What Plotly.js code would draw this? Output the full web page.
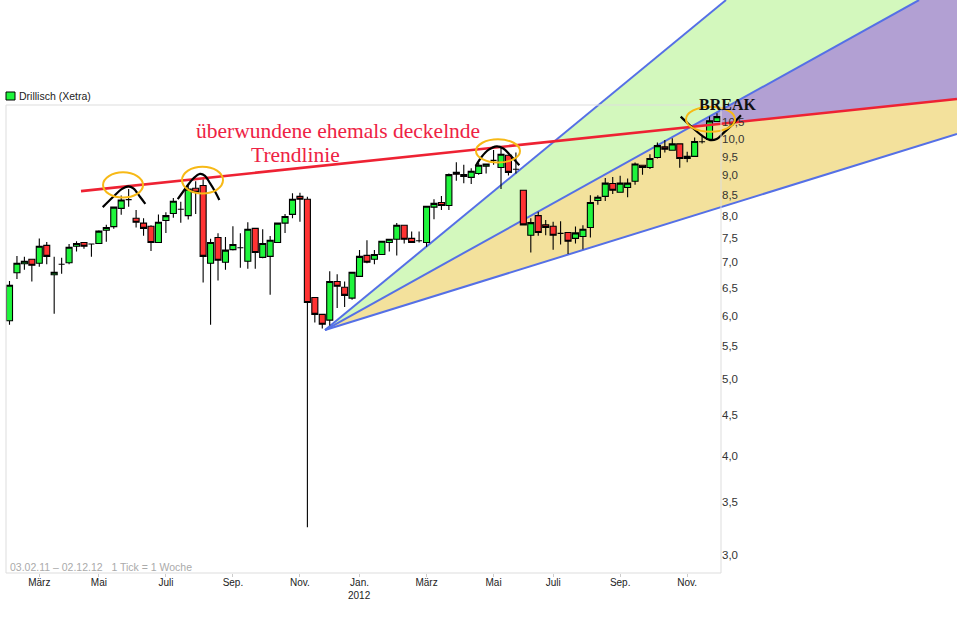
<!DOCTYPE html>
<html>
<head>
<meta charset="utf-8">
<script src="https://cdn.plot.ly/plotly-3.0.1.min.js"></script>
<style>body{margin:0;background:#fff}</style>
</head>
<body>
<div id="myChart" style="width:957px;height:629px"></div>
<script>
// weekly candles
const opens = [5.91,6.79,6.97,7.06,6.98,7.35,6.75,6.96,6.99,7.33,7.41,7.38,7.39,7.68,7.76,8.18,8.39,7.95,7.84,7.77,7.41,7.90,8.06,8.16,8.01,8.67,8.74,6.98,7.52,7.00,7.26,7.30,7.02,7.72,7.10,7.12,7.41,7.84,8.04,8.47,8.40,6.32,6.02,5.92,6.62,6.51,6.31,6.72,7.14,7.06,7.16,7.41,7.48,7.79,7.50,7.45,7.41,8.21,8.32,8.25,9.08,9.02,8.95,9.05,9.24,9.40,9.21,9.54,9.16,8.62,7.57,8.01,7.80,7.77,7.61,7.63,7.50,7.54,7.74,8.37,8.47,8.79,8.57,8.69,8.85,9.27,9.21,9.48,9.78,9.68,9.86,9.45,9.51,9.92,9.99,10.52];
const highs = [6.63,7.13,7.11,7.07,7.50,7.42,7.11,7.09,7.38,7.44,7.41,7.39,7.68,7.80,8.21,8.49,8.65,8.14,7.95,7.79,8.04,8.09,8.43,8.34,8.75,8.85,8.90,7.49,7.61,7.53,7.77,7.61,7.86,7.73,7.70,7.55,7.84,8.05,8.55,8.56,8.46,6.32,6.02,6.82,6.76,6.62,6.80,7.25,7.46,7.25,7.44,7.49,7.84,7.80,7.65,7.65,8.24,8.40,8.48,9.05,9.35,9.28,9.19,9.33,9.30,9.69,9.79,9.55,9.62,8.62,7.95,8.10,7.91,7.87,7.88,7.64,7.76,7.79,8.50,8.50,8.93,8.96,8.99,8.92,9.34,9.28,9.57,9.90,9.97,10.02,9.88,9.64,10.04,10.12,10.67,10.77];
const lows = [5.84,6.67,6.85,6.62,6.91,6.96,6.03,6.77,6.96,7.22,7.28,7.11,7.38,7.43,7.71,8.03,8.22,7.74,7.56,7.23,7.40,7.62,7.96,7.85,7.92,8.05,6.60,5.84,6.64,6.85,7.24,6.89,6.87,6.87,7.08,6.37,7.40,7.62,7.95,7.87,3.25,5.88,5.78,5.83,6.13,6.15,6.28,6.71,6.98,6.96,7.15,7.22,7.14,7.39,7.40,7.41,7.32,7.93,8.14,8.14,8.86,8.80,8.78,9.02,9.05,9.28,8.65,9.00,9.05,7.79,7.20,7.56,7.57,7.26,7.37,7.17,7.39,7.27,7.52,8.27,8.36,8.53,8.57,8.45,8.76,9.02,9.17,9.45,9.62,9.68,9.20,9.35,9.51,9.87,9.98,10.51];
const closes = [6.55,6.98,7.02,6.94,7.33,7.12,6.80,6.96,7.31,7.39,7.33,7.38,7.66,7.74,8.21,8.38,8.39,7.86,7.72,7.41,7.86,8.01,8.35,8.16,8.65,8.57,7.12,7.41,7.04,7.25,7.37,7.30,7.70,7.20,7.39,7.46,7.84,7.99,8.40,8.40,6.23,6.02,5.85,6.62,6.53,6.36,6.80,7.12,7.00,7.16,7.44,7.48,7.79,7.48,7.41,7.45,8.23,8.30,8.25,9.02,9.03,8.97,9.11,9.27,9.30,9.40,9.57,9.08,9.16,7.80,7.85,7.63,7.74,7.57,7.61,7.44,7.62,7.70,8.32,8.45,8.80,8.62,8.80,8.80,9.30,9.21,9.45,9.81,9.71,9.86,9.45,9.51,9.93,9.92,10.54,10.67];
const weeks = opens.map((_, i) => i);

const xTicks = [4,12,21,30,39,47,56,65,73,82,91];
const xLabels = ["März","Mai","Juli","Sep.","Nov.","Jan.","März","Mai","Juli","Sep.","Nov."];
const yTicks = [3,3.5,4,4.5,5,5.5,6,6.5,7,7.5,8,8.5,9,9.5,10,10.5];
const yLabels = ["3,0","3,5","4,0","4,5","5,0","5,5","6,0","6,5","7,0","7,5","8,0","8,5","9,0","9,5","10,0","10,5"];

// drawn-in stuff on top of the chart (week index / price)
const trendX = [9.60,127.23];
const trendY = [8.60,11.23];
const fan1X = [42.37,96.21];
const fan1Y = [5.753,14.95];
const fan2X = [42.37,122.13];
const fan2Y = [5.753,14.95];
const fan3X = [42.37,127.23];
const fan3Y = [5.753,10.15];
const greenX = [42.37,96.21,122.13];
const greenY = [5.753,14.95,14.95];
const tanX = [42.37,91.51,127.23,127.23];
const tanY = [5.753,10.35,11.23,10.15];
const purpleX = [91.51,122.13,127.23,127.23];
const purpleY = [10.35,14.95,14.95,11.23];

const arc1X = [12.52,13.94,15.06,15.95,16.63,17.52,18.24];
const arc1Y = [8.21,8.46,8.65,8.72,8.67,8.46,8.29];
const arc2X = [22.59,23.79,24.68,25.58,26.25,26.92,27.6,28.18];
const arc2Y = [8.40,8.71,8.92,9.04,8.99,8.80,8.59,8.38];
const arc3X = [62.6,63.41,64.3,65.42,66.31,67.21,68.46];
const arc3Y = [9.25,9.50,9.69,9.79,9.73,9.55,9.27];
const arc4X = [90.13,91.82,93.16,94.07,94.96,95.85,96.98,98.22];
const arc4Y = [10.67,10.31,10.07,9.97,10.0,10.17,10.41,10.71];

// x0,x1,y0,y1 of the orange rings
const ring1 = [12.56,17.93,9.08,8.44];
const ring2 = [23.16,28.67,9.23,8.54];
const ring3 = [62.64,68.55,9.99,9.34];
const ring4 = [90.84,97.42,10.98,10.21];

const W = 957, H = 629;
const px = (v) => v / W;
const py = (v) => 1 - v / H;

const polyPath = (xs, ys) =>
  xs.map((x, i) => (i === 0 ? "M" : "L") + x + "," + ys[i]).join(" ") + " Z";

const fillShape = (xs, ys, color) => ({
  type: "path", xref: "x", yref: "y", layer: "below",
  path: polyPath(xs, ys), fillcolor: color, line: { width: 0 },
});
const fanShape = (xs, ys) => ({
  type: "line", xref: "x", yref: "y", layer: "below",
  x0: xs[0], x1: xs[1], y0: ys[0], y1: ys[1],
  line: { color: "#5570E6", width: 2 },
});
const ringShape = (r) => ({
  type: "circle", xref: "x", yref: "y",
  x0: r[0], x1: r[1], y0: r[2], y1: r[3],
  line: { color: "#F7B916", width: 2 },
});
const arcTrace = (xs, ys) => ({
  x: xs, y: ys, type: "scatter", mode: "lines", hoverinfo: "skip",
  line: { color: "#000", width: 2.2, shape: "spline" },
});

const candles = {
  x: weeks, open: opens, high: highs, low: lows, close: closes,
  type: "candlestick", whiskerwidth: 0,
  increasing: { line: { color: "#000", width: 1.1 }, fillcolor: "#1FF53C" },
  decreasing: { line: { color: "#000", width: 1.1 }, fillcolor: "#FF3333" },
};

const data = [
  candles,
  { x: trendX, y: trendY, type: "scatter", mode: "lines", hoverinfo: "skip", line: { color: "#EE2233", width: 2.6 } },
  arcTrace(arc1X, arc1Y),
  arcTrace(arc2X, arc2Y),
  arcTrace(arc3X, arc3Y),
  arcTrace(arc4X, arc4Y),
];

const sans = "Liberation Sans, Arial, sans-serif";
const serif = "Liberation Serif, Times New Roman, serif";

const note = (text, x, y, size, color, family) => ({
  text: text, xref: "paper", yref: "paper", x: px(x), y: py(y),
  xanchor: "left", yanchor: "middle", showarrow: false,
  font: { size: size, color: color, family: family },
});

const layout = {
  width: W,
  height: H,
  margin: { l: 0, r: 0, t: 0, b: 0 },
  paper_bgcolor: "#fff",
  plot_bgcolor: "#fff",
  showlegend: false,
  dragmode: false,
  boxgap: 0.1,
  boxgroupgap: 0.1,
  xaxis: {
    type: "linear",
    range: [-1.2757, 127.23],
    anchor: "free",
    position: py(573),
    rangeslider: { visible: false },
    showgrid: false,
    zeroline: false,
    showline: false,
    tickmode: "array",
    tickvals: xTicks,
    ticktext: xLabels,
    ticks: "outside",
    ticklen: 3,
    tickcolor: "#ccc",
    ticklabelstandoff: -3,
    tickfont: { size: 10, color: "#222", family: sans },
  },
  yaxis: {
    type: "log",
    range: [0.38411, 1.17471],
    anchor: "free",
    position: px(721),
    side: "right",
    showgrid: false,
    zeroline: false,
    showline: false,
    tickmode: "array",
    tickvals: yTicks,
    ticktext: yLabels,
    ticks: "",
    tickfont: { size: 11.5, color: "#333", family: sans },
  },
  shapes: [
    fillShape(greenX, greenY, "#D3F8BD"),
    fillShape(tanX, tanY, "#F3E19C"),
    fillShape(purpleX, purpleY, "#B2A0D3"),
    fanShape(fan1X, fan1Y),
    fanShape(fan2X, fan2Y),
    fanShape(fan3X, fan3Y),
    ringShape(ring1),
    ringShape(ring2),
    ringShape(ring3),
    ringShape(ring4),
    // frame of the chart area
    { type: "rect", xref: "paper", yref: "paper", x0: px(6), x1: px(721), y0: py(573), y1: py(105),
      line: { color: "#DDDDDD", width: 1 } },
    // legend box
    { type: "rect", xref: "paper", yref: "paper", x0: px(6), x1: px(15), y0: py(100), y1: py(92),
      fillcolor: "#1FF53C", line: { color: "#000", width: 1 } },
  ],
  annotations: [
    note("Drillisch (Xetra)", 17, 96, 10.5, "#222", sans),
    note("überwundene ehemals deckelnde", 194, 131, 21.5, "#EE2244", serif),
    note("Trendlinie", 249, 155, 21.5, "#EE2244", serif),
    note("<b>BREAK</b>", 697, 104, 16, "#111", serif),
    note("03.02.11 – 02.12.12   1 Tick = 1 Woche", 8, 567, 10.5, "#AAAAAA", sans),
    { text: "2012", xref: "x", yref: "paper", x: 47, y: py(595), xanchor: "center", yanchor: "middle",
      showarrow: false, font: { size: 10, color: "#222", family: sans } },
  ],
};

Plotly.newPlot("myChart", data, layout, { displayModeBar: false, staticPlot: true });
</script>
</body>
</html>
